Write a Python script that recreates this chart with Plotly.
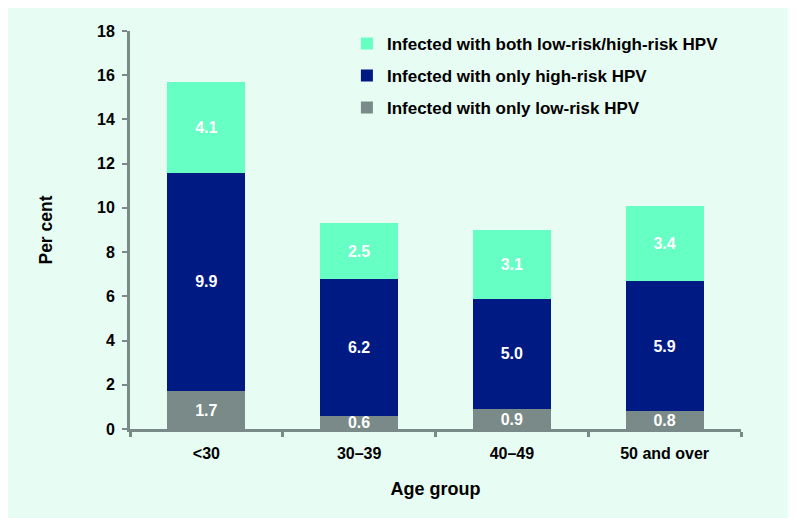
import plotly.graph_objects as go

categories = ["<30", "30–39", "40–49", "50 and over"]
low_only = [1.7, 0.6, 0.9, 0.8]
high_only = [9.9, 6.2, 5.0, 5.9]
both = [4.1, 2.5, 3.1, 3.4]
y_ticks = [0, 2, 4, 6, 8, 10, 12, 14, 16, 18]

BG = "#e7fcf2"
AX = "#7a8a88"
FONT = "Liberation Sans, Arial, sans-serif"

fig = go.Figure()
series = [
    ("Infected with only low-risk HPV", low_only, "#7a8a88", 3),
    ("Infected with only high-risk HPV", high_only, "#001a84", 2),
    ("Infected with both low-risk/high-risk HPV", both, "#66ffc4", 1),
]
for name, vals, col, rank in series:
    fig.add_trace(go.Bar(
        x=categories, y=vals, name=name, marker=dict(color=col, line=dict(width=0)),
        text=[f"{v:.1f}" for v in vals], textposition="inside",
        insidetextanchor="middle", textangle=0,
        textfont=dict(color="white", size=16, family=FONT, weight="bold"),
        legendgroup=name, legendrank=rank,
    ))

fig.update_layout(
    barmode="stack", bargap=0.49,
    width=796, height=518,
    paper_bgcolor=BG, plot_bgcolor=BG,
    margin=dict(l=122, r=63, t=23, b=97, autoexpand=False),
    font=dict(family=FONT, color="black", size=16),
    uniformtext=dict(mode="show", minsize=16),
    legend=dict(
        x=0.355, y=1.013, xanchor="left", yanchor="top",
        traceorder="grouped", tracegroupgap=7,
        font=dict(size=17, family=FONT, weight="bold"),
        bgcolor="rgba(0,0,0,0)",
    ),
    xaxis=dict(
        showline=True, linecolor=AX, linewidth=3, ticks="outside",
        tickson="boundaries", ticklen=5, tickwidth=3, tickcolor=AX,
        ticklabelstandoff=8,
        tickfont=dict(size=16, family=FONT, weight="bold"),
        title=dict(text="Age group", font=dict(size=18, family=FONT, weight="bold"), standoff=22),
    ),
    yaxis=dict(
        range=[0, 18], tickvals=y_ticks, showgrid=False, zeroline=False,
        showline=True, linecolor=AX, linewidth=3, ticks="outside",
        ticklen=5, tickwidth=2, tickcolor=AX, ticklabelstandoff=4,
        tickfont=dict(size=16, family=FONT, weight="bold"),
        title=dict(text="Per cent", font=dict(size=17.5, family=FONT, weight="bold"), standoff=40),
    ),
)

fig.write_html("out.html")
